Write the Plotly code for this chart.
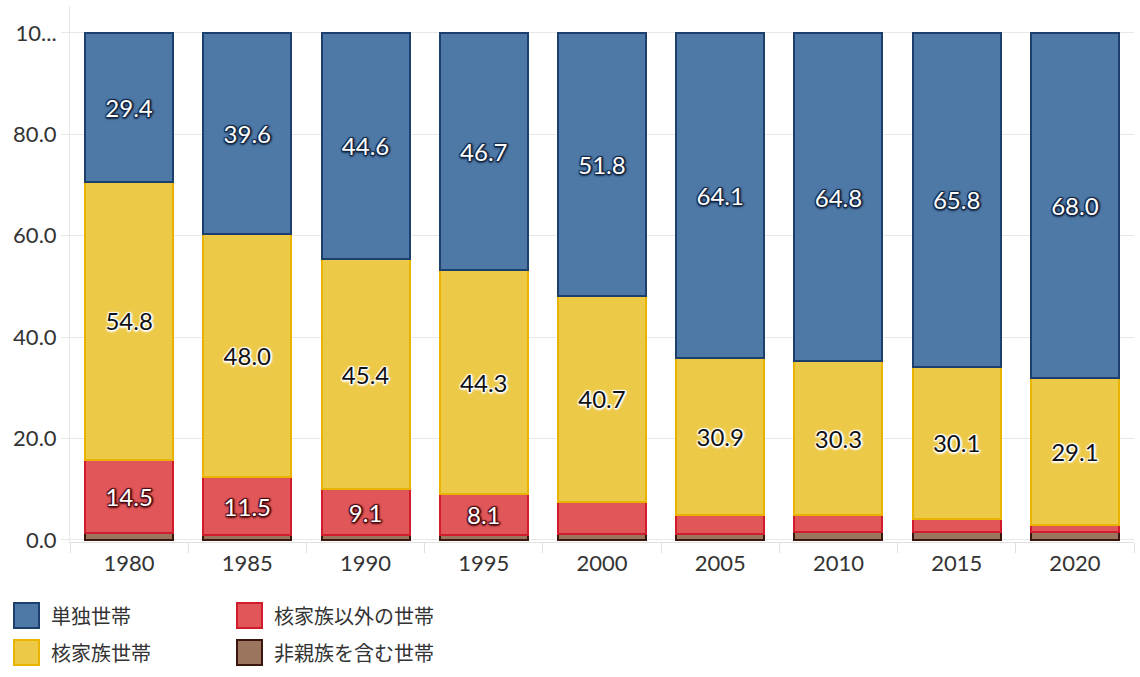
import plotly.graph_objects as go

years = ["1980", "1985", "1990", "1995", "2000", "2005", "2010", "2015", "2020"]
single = [29.4, 39.6, 44.6, 46.7, 51.8, 64.1, 64.8, 65.8, 68.0]
nuclear = [54.8, 48.0, 45.4, 44.3, 40.7, 30.9, 30.3, 30.1, 29.1]
other_rel = [14.5, 11.5, 9.1, 8.1, 6.3, 3.8, 3.4, 2.5, 1.3]
non_rel = [1.3, 0.9, 0.9, 0.9, 1.2, 1.2, 1.5, 1.6, 1.6]

names = ["単独世帯", "核家族世帯", "核家族以外の世帯", "非親族を含む世帯"]
fills = ["#4e79a7", "#edc948", "#e15759", "#9c755f"]
edges = ["#1d3f6e", "#e8b400", "#d01c2c", "#3b160c"]
y_ticks = [0, 20, 40, 60, 80, 100]
y_tick_text = ["0.0", "20.0", "40.0", "60.0", "80.0", "10..."]

FONT = "Lato, 'Noto Sans CJK JP', sans-serif"
JFONT = "'Noto Sans CJK JP', Lato, sans-serif"

def labels(vals, minv=7.5):
    return [f"{v:.1f}" if v >= minv else "" for v in vals]

def outline(c):
    return (f"1px 1px 1px {c}, -1px -1px 1px {c}, 1px -1px 1px {c}, -1px 1px 1px {c}, "
            f"0px 2px 2px {c}, 2px 0px 2px {c}")

series = [
    (non_rel, 3, None, None),
    (other_rel, 2, "white", outline("#4a0a10")),
    (nuclear, 1, "#111111", outline("#ffffff")),
    (single, 0, "white", outline("#142642")),
]

fig = go.Figure()
for vals, idx, tcol, shadow in series:
    if tcol is not None:
        kw = dict(
            text=labels(vals),
            textposition="inside",
            insidetextanchor="middle",
            insidetextfont=dict(family=FONT, size=24, color=tcol, shadow=shadow),
            textangle=0,
        )
    else:
        kw = dict(textposition="none")
    fig.add_trace(go.Bar(
        x=years, y=vals, name=names[idx],
        marker=dict(color=fills[idx], line=dict(color=edges[idx], width=2)),
        showlegend=False, hoverinfo="x+y+name", **kw,
    ))

# custom legend (two columns): blue/red in row 1, yellow/brown in row 2
cells = {0: (0, 0), 2: (1, 0), 1: (0, 1), 3: (1, 1)}
col_x = [14, 237]
row_y = [603, 640]
L, T, PW, PH = 70, 6, 1064, 536
for i, name in enumerate(names):
    col, row = cells[i]
    x0 = col_x[col]
    y0 = row_y[row]
    fig.add_shape(type="rect", xref="paper", yref="paper",
                  x0=(x0 - L) / PW, x1=(x0 + 25 - L) / PW,
                  y0=(T + PH - y0) / PH, y1=(T + PH - y0 - 25) / PH,
                  fillcolor=fills[i], line=dict(color=edges[i], width=2))
    fig.add_annotation(xref="paper", yref="paper",
                       x=(x0 + 35 - L) / PW, y=(T + PH - y0 - 12.5) / PH,
                       text=name, showarrow=False, xanchor="left", yanchor="middle",
                       font=dict(family=JFONT, size=20, color="#333333"))

fig.update_layout(
    width=1140, height=677,
    margin=dict(l=L, r=1140 - L - PW, t=T, b=677 - T - PH),
    barmode="stack", bargap=0.255,
    plot_bgcolor="white", paper_bgcolor="white",
    font=dict(family=FONT, size=22, color="#333333"),
    showlegend=False,
)
fig.update_yaxes(
    range=[-0.4, 105.3], tickvals=y_ticks, ticktext=y_tick_text,
    showgrid=True, gridcolor="#e8e8e8", gridwidth=1,
    ticks="outside", ticklen=8, tickcolor="#e8e8e8",
    zeroline=False, showline=True, linecolor="#e8e8e8",
    tickfont=dict(family=FONT, size=22, color="#333333"),
    automargin=False,
)
fig.update_xaxes(
    showgrid=False, showline=True, linecolor="#e0e0e0",
    ticks="outside", tickson="boundaries", ticklen=10, tickcolor="#e0e0e0",
    ticklabelstandoff=2,
    tickfont=dict(family=FONT, size=22, color="#333333"),
    automargin=False,
)

fig.write_html("out.html", config={"displayModeBar": False},
               post_script="document.body.style.margin='0';")
